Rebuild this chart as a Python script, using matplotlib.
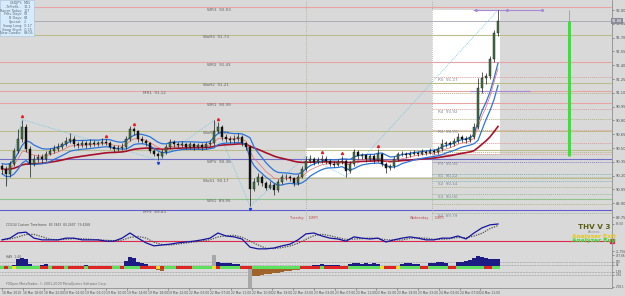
import numpy as np
import pandas as pd
import matplotlib
matplotlib.use("Agg")
import matplotlib.pyplot as plt
from matplotlib.patches import Rectangle

# ---------------- DATA ----------------
# USDJPY candles (one candle per 4 px)
first_open = 90.30
close = [90.27, 90.22, 90.33, 90.47, 90.60, 90.73, 90.49, 90.33, 90.38, 90.40,
         90.38, 90.44, 90.47, 90.49, 90.51, 90.54, 90.58, 90.60, 90.54, 90.53,
         90.55, 90.53, 90.56, 90.54, 90.55, 90.57, 90.56, 90.51, 90.49, 90.50,
         90.51, 90.60, 90.71, 90.68, 90.60, 90.58, 90.55, 90.47, 90.44, 90.41,
         90.46, 90.51, 90.57, 90.54, 90.53, 90.54, 90.51, 90.54, 90.51, 90.53,
         90.51, 90.54, 90.55, 90.69, 90.73, 90.62, 90.60, 90.59, 90.60, 90.62,
         90.55, 90.51, 90.06, 90.13, 90.19, 90.12, 90.07, 90.10, 90.04, 90.13,
         90.19, 90.18, 90.17, 90.12, 90.19, 90.27, 90.36, 90.38, 90.35, 90.37,
         90.38, 90.36, 90.33, 90.32, 90.35, 90.36, 90.25, 90.33, 90.46, 90.41,
         90.42, 90.38, 90.41, 90.37, 90.43, 90.33, 90.28, 90.30, 90.38, 90.43,
         90.44, 90.42, 90.44, 90.45, 90.44, 90.46, 90.45, 90.47, 90.46, 90.49,
         90.54, 90.55, 90.54, 90.58, 90.62, 90.60, 90.59, 90.62, 90.73, 91.15,
         91.26, 91.28, 91.47, 91.75, 91.88]
high = [90.33, 90.30, 90.36, 90.50, 90.71, 90.81, 90.76, 90.52, 90.42, 90.44,
        90.43, 90.47, 90.50, 90.53, 90.55, 90.57, 90.62, 90.66, 90.63, 90.57,
        90.59, 90.58, 90.60, 90.59, 90.58, 90.61, 90.60, 90.58, 90.53, 90.53,
        90.55, 90.63, 90.74, 90.73, 90.70, 90.63, 90.60, 90.57, 90.49, 90.46,
        90.49, 90.54, 90.60, 90.59, 90.57, 90.58, 90.56, 90.57, 90.56, 90.56,
        90.55, 90.57, 90.59, 90.80, 90.78, 90.75, 90.65, 90.63, 90.64, 90.66,
        90.64, 90.57, 90.53, 90.17, 90.23, 90.21, 90.14, 90.14, 90.12, 90.16,
        90.22, 90.22, 90.21, 90.19, 90.22, 90.30, 90.41, 90.42, 90.40, 90.40,
        90.42, 90.41, 90.38, 90.36, 90.38, 90.41, 90.38, 90.36, 90.49, 90.48,
        90.45, 90.44, 90.44, 90.43, 90.49, 90.45, 90.35, 90.33, 90.41, 90.46,
        90.47, 90.46, 90.47, 90.48, 90.47, 90.49, 90.48, 90.50, 90.49, 90.52,
        90.60, 90.58, 90.58, 90.61, 90.66, 90.64, 90.63, 90.65, 90.77, 91.26,
        91.33, 91.32, 91.50, 91.78, 92.00]
low = [90.22, 90.09, 90.19, 90.31, 90.45, 90.57, 90.46, 90.19, 90.30, 90.35,
       90.34, 90.36, 90.42, 90.45, 90.47, 90.49, 90.52, 90.55, 90.51, 90.50,
       90.51, 90.50, 90.51, 90.52, 90.52, 90.53, 90.53, 90.49, 90.46, 90.47,
       90.48, 90.49, 90.58, 90.64, 90.57, 90.55, 90.52, 90.45, 90.41, 90.37,
       90.39, 90.44, 90.49, 90.51, 90.50, 90.51, 90.49, 90.49, 90.48, 90.49,
       90.48, 90.49, 90.52, 90.53, 90.66, 90.59, 90.57, 90.56, 90.56, 90.58,
       90.52, 90.48, 89.87, 90.03, 90.10, 90.09, 90.04, 90.05, 89.99, 90.02,
       90.11, 90.15, 90.14, 90.09, 90.10, 90.17, 90.25, 90.34, 90.32, 90.33,
       90.34, 90.33, 90.30, 90.29, 90.30, 90.33, 90.19, 90.23, 90.31, 90.38,
       90.38, 90.35, 90.36, 90.34, 90.35, 90.30, 90.23, 90.26, 90.28, 90.36,
       90.41, 90.39, 90.40, 90.42, 90.41, 90.42, 90.42, 90.43, 90.43, 90.44,
       90.47, 90.51, 90.51, 90.52, 90.56, 90.57, 90.56, 90.57, 90.60, 90.71,
       91.10, 91.20, 91.25, 91.44, 91.72]

bid = 91.88
tuesday_start = 76
wednesday_start = 107.5

# weekly / monthly pivots
wk_names = ["WR3", "WoR3", "WR2", "WoR2", "MR1", "WR1", "WoR1", "", "WPV", "WoS1", "WS1", "MPV"]
wk_values = [92.03, 91.73, 91.43, 91.21, 91.12, 90.99, 90.69, 90.48, 90.38, 90.17, 89.95, 89.83]
wk_colors = ["#e8a4a4", "#bcbc8c", "#e8a4a4", "#bcbc8c", "#e8a4a4", "#e8a4a4", "#bcbc8c",
             "#bcbc8c", "#6e6ec8", "#bcbc8c", "#8cc48c", "#5e5ed0"]
wk_label_x = [51.3, 50.3, 51.3, 50.3, 35.3, 51.3, 50.3, 0, 51.3, 50.3, 51.3, 35.3]

# daily pivots (dotted, right part)
dy_names = ["R5", "", "R4", "", "R3", "", "", "", "PV", "S1", "", "S2", "", "S3", "", "S4"]
dy_values = [91.27, 91.10, 90.92, 90.82, 90.70, 90.56, 90.46, 90.43, 90.35, 90.22,
             90.18, 90.14, 90.08, 90.00, 89.89, 89.79]
dy_colors = ["#e09a9a", "#b4b482", "#e09a9a", "#b4b482", "#e09a9a", "#e09a9a", "#b4b482",
             "#e09a9a", "#8c7cc8", "#7cb4b4", "#a8b8a0", "#7cb4b4", "#b4b482", "#9cb89c",
             "#b4b482", "#9cb89c"]

price_ticks = [89.75, 89.90, 90.05, 90.20, 90.35, 90.50, 90.65, 90.80, 90.95,
               91.10, 91.25, 91.40, 91.55, 91.70, 91.85, 92.00]

zigzag_idx = [1, 5, 39, 53, 62, 76, 86, 124]
fractal_up = [5, 26, 33, 54, 80, 85, 94]
fractal_dn = [39, 62]

range_bar_x = 141.75
range_bar = (90.41, 91.88, 92.00)
purple_top = (92.00, 117.75, 135.0)
purple_top_dots = [118.5, 126.25, 135.0]
purple_mid = (91.12, 117.0, 132.0)

# CCI panel (one value per 2 candles)
cci = [48, 52, 64, 66, 52, 48, 48, 48, 52, 52,
       48, 48, 48, 45, 45, 52, 64, 52, 41, 34,
       36, 38, 41, 43, 45, 48, 52, 64, 57, 55,
       50, 31, 27, 27, 29, 34, 38, 48, 62, 64,
       57, 52, 50, 45, 55, 52, 50, 52, 43, 48,
       52, 55, 52, 48, 48, 52, 52, 57, 50, 64,
       76, 83, 85]
cci_level = 45

# histogram panel
hist = [0, 0, 0, 80, 280, 330, 300, 120, 0, 0,
        80, 100, 60, 0, 40, 50, 0, 60, 40, 0,
        50, 70, 40, 60, 0, 50, 60, 40, 0, 0,
        50, 230, 350, 330, 200, 160, 120, 0, 0, -90,
        -120, 0, 60, 40, 0, 0, 0, 0, 0, 0,
        0, 40, 60, 410, 200, 150, 160, 140, 130, 100,
        0, 0, -700, -300, -280, -260, -240, -220, -200, -180,
        -160, -140, -120, -100, -80, 0, 0, 0, 70, 90,
        100, 80, 90, 70, 80, 60, 0, 100, 160, 150,
        130, 140, 120, 150, 130, 0, -60, 0, 0, 0,
        130, 150, 140, 120, 130, 0, 0, 140, 160, 170,
        180, 160, 0, 0, 170, 190, 210, 260, 320, 380,
        370, 330, 300, 280, 290]
hist_gray = [53, 62]
hist_levels = [185, 82, -158, -261]
band = ("grgygggggg" "rrgrrrgrrrrgrrrrrr" "ggrggggrr" "rryr" "ggg" "rrrr" "ggggg"
        "yr" "ggggg" "rrr" "gggggggggggg" "rrr" "rrgrrrrrr" "gggggggg" "yrrry"
        "ggggg" "rr" "ggggg" "rr" "ggggggg" "rr" "gg")

time_labels = ["18 Mar 2010", "18 Mar 18:00", "18 Mar 22:00", "19 Mar 02:00", "19 Mar 06:00",
               "19 Mar 10:00", "19 Mar 14:00", "19 Mar 18:00", "19 Mar 22:00", "22 Mar 03:00",
               "22 Mar 07:00", "22 Mar 11:00", "22 Mar 15:00", "22 Mar 19:00", "22 Mar 23:00",
               "23 Mar 03:00", "23 Mar 07:00", "23 Mar 11:00", "23 Mar 15:00", "23 Mar 19:00",
               "23 Mar 23:00", "24 Mar 03:00", "24 Mar 07:00", "24 Mar 11:00"]

info_labels = ["USDJPY:", "--TsProfit--", "Range Today:", "Prev Days:", "B Days:",
               "Spread:", "Swap Long:", "Swap Short:", "New Candle:"]
info_values = ["M15", "13.1", "107", "58", "84", "2", "-0.17", "-0.25", "09:05"]

# ---------------- FIGURE ----------------
BG = "#d9d9d9"
W, H = 625, 296
fig = plt.figure(figsize=(W / 100, H / 100), dpi=100, facecolor=BG)


def px_axes(x0, y0, x1, y1):
    a = fig.add_axes([x0 / W, 1 - y1 / H, (x1 - x0) / W, (y1 - y0) / H])
    a.set_facecolor(BG)
    a.set_xlim(-0.5, 152.5)
    for s in ["left", "top"]:
        a.spines[s].set_visible(False)
    for s in ["right", "bottom"]:
        a.spines[s].set_color("#8e8e8e")
        a.spines[s].set_linewidth(0.6)
    a.yaxis.tick_right()
    a.tick_params(axis="y", labelsize=2.6, colors="#505050", length=1.5, width=0.4, pad=1)
    a.tick_params(axis="x", length=0)
    a.set_xticks([])
    return a


ax = px_axes(0, 0, 612, 221)
ax_cci = px_axes(0, 221, 612, 254)
ax_h = px_axes(0, 254, 612, 288)

# ---- main chart ----
c = np.array(close)
hi = np.array(high)
lo = np.array(low)
o = np.array([first_open] + close[:-1])
idx = np.arange(len(c))
ax.set_ylim(89.707, 92.109)

# day range boxes (white)
tue = (idx >= tuesday_start) & (idx < wednesday_start)
wed = idx >= wednesday_start
ax.add_patch(Rectangle((tuesday_start, lo[tue].min()), wednesday_start - tuesday_start,
                       hi[tue].max() - lo[tue].min(), facecolor="white", edgecolor="none", zorder=0.5))
ax.add_patch(Rectangle((wednesday_start, lo[wed].min()), idx[-1] + 0.5 - wednesday_start,
                       hi[wed].max() - lo[wed].min(), facecolor="white", edgecolor="none", zorder=0.5))

for name, v, col, lx in zip(wk_names, wk_values, wk_colors, wk_label_x):
    ax.axhline(v, color=col, lw=0.8, zorder=1)
    if name:
        ax.text(lx, v - 0.005, f"{name}  {v:.2f}", fontsize=3, color="#606060", va="top", zorder=1.5)

for name, v, col in zip(dy_names, dy_values, dy_colors):
    ax.hlines(v, wednesday_start, 152.5, colors=col, linestyles=(0, (1, 1)), lw=0.7, zorder=1)
    if name:
        ax.text(wednesday_start + 1.5, v - 0.005, f"{name}  {v:.2f}", fontsize=3,
                color="#7a8898", va="top", zorder=1.5)

ax.axhline(bid, color="#a4a4b4", lw=0.6, zorder=1)

for xd in [tuesday_start, wednesday_start]:
    ax.axvline(xd, color="#a8a890", lw=0.6, ls=(0, (1, 1.5)), zorder=1)
ax.text(tuesday_start - 0.6, 89.735, "Tuesday", fontsize=2.4, color="#c04848", ha="right", va="center")
ax.text(tuesday_start + 0.6, 89.735, "(GMT)", fontsize=2.4, color="#c04848", ha="left", va="center")
ax.text(wednesday_start - 0.6, 89.735, "Wednesday", fontsize=2.4, color="#c04848", ha="right", va="center")
ax.text(wednesday_start + 0.6, 89.735, "(GMT)", fontsize=2.4, color="#c04848", ha="left", va="center")

# zigzag
zz_vals = [lo[i] if k % 2 == 0 else hi[i] for k, i in enumerate(zigzag_idx)]
ax.plot(zigzag_idx, zz_vals, color="#6cc8e4", lw=0.6, ls=(0, (1, 1.2)), zorder=2)

# moving averages / bands
ema_hi = pd.Series(hi).ewm(span=8, adjust=False).mean()
ema_lo = pd.Series(lo).ewm(span=8, adjust=False).mean()
ema_c = pd.Series(c).ewm(span=8, adjust=False).mean()
ema_slow = pd.Series(c).ewm(span=40, adjust=False).mean()
ax.plot(idx, ema_slow, color="#a8102c", lw=1.2, zorder=3)
ax.plot(idx, ema_hi, color="#2c74d8", lw=0.9, zorder=3)
ax.plot(idx, ema_lo, color="#2c74d8", lw=0.9, zorder=3)
ax.plot(idx, ema_c, color="#e86c6c", lw=0.5, zorder=3)

# candles
up = c >= o
ax.vlines(idx, lo, hi, color="#1a1a1a", lw=0.5, zorder=4)
body = np.maximum(np.abs(c - o), 0.006)
ax.bar(idx, body, bottom=np.minimum(o, c), width=0.7,
       color=np.where(up, "#467846", "#111111"), edgecolor="#111111", lw=0.3, zorder=5)

ax.plot(fractal_up, hi[fractal_up] + 0.035, ls="none", marker="^", ms=1.5, color="#e02020", zorder=6)
ax.plot(fractal_dn, lo[fractal_dn] - 0.035, ls="none", marker="v", ms=1.5, color="#2040d0", zorder=6)

# range bar and purple markers
ax.vlines(range_bar_x, range_bar[0], range_bar[1], color="#33e633", lw=2.2, zorder=3)
ax.vlines(range_bar_x, range_bar[1], range_bar[2], color="#909090", lw=0.5, zorder=3)
ax.hlines(purple_top[0], purple_top[1], purple_top[2], color="#a888d4", lw=0.8, zorder=3)
ax.plot(purple_top_dots, [purple_top[0]] * len(purple_top_dots), ls="none", marker="o",
        ms=1.2, color="#a888d4", zorder=3)
ax.hlines(purple_mid[0], purple_mid[1], purple_mid[2], color="#a888d4", lw=0.8, zorder=3)

ax.set_yticks(price_ticks)
ax.set_yticklabels([f"{t:.2f}" for t in price_ticks])
ax.text(1.0, bid, f"{bid:.2f}", transform=ax.get_yaxis_transform(), fontsize=2.6, color="white",
        va="center", ha="left", clip_on=False,
        bbox=dict(boxstyle="square,pad=0.25", facecolor="#8c8c98", edgecolor="none"))

# info box
fig.patches.append(Rectangle((0, 1 - 36 / H), 34 / W, 36 / H, transform=fig.transFigure,
                             facecolor="#d6ebfb", edgecolor="#a8c4dc", lw=0.4))
for j, (lab, val) in enumerate(zip(info_labels, info_values)):
    yy = 1 - (3 + 3.8 * j) / H
    fig.text(22 / W, yy, lab, fontsize=2.4, color="#5a6a7a", ha="right", va="center")
    fig.text(24 / W, yy, val, fontsize=2.4, color="#5a6a7a", ha="left", va="center")

# ---- CCI panel ----
cci_x = np.arange(0, len(c), 2)
ax_cci.set_ylim(15, 92)
ax_cci.axhline(cci_level, color="#e0284c", lw=0.8)
cci_sig = pd.Series(cci).rolling(3, min_periods=1).mean()
ax_cci.plot(cci_x, cci_sig, color="#505050", lw=0.9, ls=(0, (1, 1)))
ax_cci.plot(cci_x, cci, color="#1414a0", lw=0.9)
ax_cci.plot([152.5], [cci_level], ls="none", marker="s", ms=2.5, color="#e0284c", clip_on=False)
ax_cci.set_yticks([85.5, 21.756])
ax_cci.set_yticklabels(["85.50", "21.756"])
ax_cci.tick_params(axis="y", labelsize=2.1)
ax_cci.text(1, 88, "CCI(14) Custom Timeframe  85.7843  83.2607  79.4268", fontsize=2.2,
            color="#505050", va="top")
fig.text(594 / W, 1 - 227 / H, "THV V 3", fontsize=5.2, fontweight="bold", color="#5c5c14",
         ha="center", va="center")
fig.text(594 / W, 1 - 232 / H, "Access", fontsize=2.6, color="#8a8a8a", ha="center", va="center")
fig.text(594 / W, 1 - 236.5 / H, "Analyzer Exit", fontsize=4.2, fontweight="bold", color="#e6c81a",
         ha="center", va="center")
fig.text(594 / W, 1 - 240.5 / H, "Analyzer Buy", fontsize=4.2, fontweight="bold", color="#3cd83c",
         ha="center", va="center")

# ---- histogram panel ----
ax_h.set_ylim(-708, 458)
for lv in hist_levels:
    ax_h.axhline(lv, color="#8a8a8a", lw=0.5, ls=(0, (1, 1.2)))
hcol = ["#a8a8a8" if i in hist_gray else ("#1c1c84" if v >= 0 else "#a0642a")
        for i, v in enumerate(hist)]
ax_h.bar(idx, hist, width=0.85, color=hcol, zorder=2)
band_map = {"g": "#5ee05e", "r": "#e02424", "y": "#f0e030"}
ax_h.bar(idx, 100, bottom=-50, width=1.0, color=[band_map[b] for b in band], zorder=3)
ax_h.set_yticks([420] + hist_levels + [-670])
ax_h.set_yticklabels(["457.86", "185", "82", "-158", "-261", "-708.1"])
ax_h.tick_params(axis="y", labelsize=2.0)
ax_h.text(1, 440, "HAS  1.44", fontsize=2.2, color="#505050", va="top")
ax_h.text(1, -650, "FXOpen MetaTrader, \u00a9 2001-2009 MetaQuotes Software Corp.", fontsize=2.3,
          color="#707070", va="bottom")

tick_pos = [5.2 * k for k in range(len(time_labels))]
ax_h.set_xticks(tick_pos)
ax_h.set_xticklabels(time_labels, fontsize=2.2, color="#505050", ha="left")
ax_h.tick_params(axis="x", length=1.2, width=0.4, pad=1.2, colors="#505050")

fig.savefig("out.png", dpi=100, facecolor=BG)
